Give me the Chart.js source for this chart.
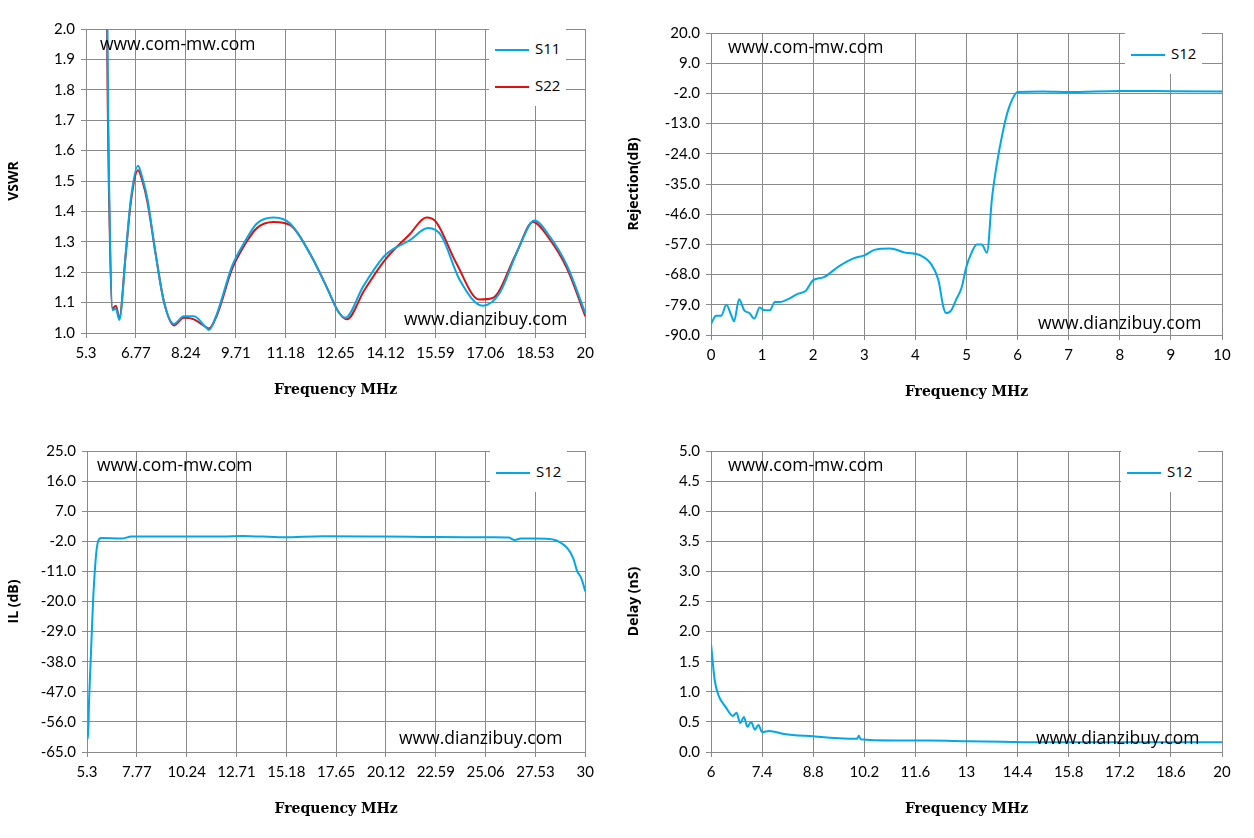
<!DOCTYPE html>
<html><head><meta charset="utf-8">
<script src="https://cdn.jsdelivr.net/npm/chart.js@4"></script>
<style>
body{margin:0;background:#fff;width:1254px;height:838px;position:relative;overflow:hidden;font-family:"Open Sans",sans-serif}
.box{position:absolute}
.wm{position:absolute;font-size:17.5px;color:#000;font-family:"Open Sans",sans-serif}
.leg{position:absolute;background:#fff;font-size:15px;font-family:"Open Sans",sans-serif;padding:2px 6px}
.leg div{height:37px;line-height:37px;white-space:nowrap}
.leg span{display:inline-block;width:34px;height:2px;vertical-align:middle;margin-right:6px}
</style></head><body>
<div class="box" style="left:0;top:14px;width:600px;height:389px"><canvas id="c1"></canvas></div>
<div class="box" style="left:620px;top:18px;width:634px;height:387px"><canvas id="c2"></canvas></div>
<div class="box" style="left:0;top:436px;width:600px;height:386px"><canvas id="c3"></canvas></div>
<div class="box" style="left:620px;top:436px;width:634px;height:386px"><canvas id="c4"></canvas></div>
<div class="wm" style="left:100px;top:31px">www.com-mw.com</div>
<div class="wm" style="left:404px;top:306px">www.dianzibuy.com</div>
<div class="wm" style="left:728px;top:34px">www.com-mw.com</div>
<div class="wm" style="left:1038px;top:310px">www.dianzibuy.com</div>
<div class="wm" style="left:97px;top:452px">www.com-mw.com</div>
<div class="wm" style="left:399px;top:725px">www.dianzibuy.com</div>
<div class="wm" style="left:728px;top:452px">www.com-mw.com</div>
<div class="wm" style="left:1036px;top:725px">www.dianzibuy.com</div>
<div class="leg" style="left:489px;top:28px"><div><span style="background:#00a8e8"></span>S11</div><div><span style="background:#e01010"></span>S22</div></div>
<div class="leg" style="left:1125px;top:33px"><div><span style="background:#00a8e8"></span>S12</div></div>
<div class="leg" style="left:490px;top:451px"><div><span style="background:#00a8e8"></span>S12</div></div>
<div class="leg" style="left:1121px;top:451px"><div><span style="background:#00a8e8"></span>S12</div></div>
<script>
const vswrX = ['5.3','6.77','8.24','9.71','11.18','12.65','14.12','15.59','17.06','18.53','20'];
const vswrY = [1.0,1.1,1.2,1.3,1.4,1.5,1.6,1.7,1.8,1.9,2.0];
const s11 = [[5.93,2.0],[5.95,1.75],[5.98,1.49],[6.08,1.075],[6.18,1.08],[6.28,1.043],[6.47,1.26],[6.62,1.44],[6.83,1.55],[6.96,1.51],[7.11,1.44],[7.35,1.26],[7.6,1.1],[7.89,1.03],[8.18,1.055],[8.48,1.055],[8.82,1.02],[8.92,1.01],[9.16,1.065],[9.6,1.22],[10.0,1.305],[10.33,1.36],[10.82,1.38],[11.31,1.36],[11.9,1.26],[12.39,1.15],[12.73,1.07],[12.93,1.05],[13.47,1.155],[14.1,1.255],[14.83,1.305],[15.37,1.345],[15.76,1.32],[16.3,1.175],[16.98,1.09],[17.47,1.13],[18.06,1.285],[18.5,1.37],[18.94,1.32],[19.47,1.22],[20,1.065]];
const s22 = [[5.92,2.0],[5.94,1.75],[5.97,1.5],[6.08,1.08],[6.18,1.09],[6.28,1.05],[6.47,1.26],[6.62,1.43],[6.83,1.535],[6.96,1.5],[7.11,1.43],[7.35,1.26],[7.6,1.1],[7.89,1.025],[8.18,1.05],[8.48,1.045],[8.82,1.02],[8.92,1.015],[9.16,1.06],[9.6,1.21],[10.0,1.295],[10.33,1.345],[10.82,1.365],[11.31,1.355],[11.9,1.26],[12.39,1.15],[12.73,1.07],[12.98,1.045],[13.49,1.14],[14.1,1.24],[14.83,1.325],[15.32,1.38],[15.61,1.365],[16.2,1.23],[16.88,1.11],[17.27,1.115],[17.96,1.26],[18.46,1.365],[18.94,1.31],[19.47,1.21],[20,1.055]];
const rejX = [0,1,2,3,4,5,6,7,8,9,10];
const rejY = [-90,-79,-68,-57,-46,-35,-24,-13,-2,9,20];
const rej = [[0,-86],[0.1,-83],[0.2,-83],[0.3,-79],[0.4,-83],[0.45,-85],[0.55,-77],[0.65,-81],[0.75,-82],[0.85,-84],[0.95,-80],[1.05,-81],[1.15,-81],[1.25,-78],[1.35,-78],[1.5,-77],[1.7,-75],[1.85,-74],[2.0,-70],[2.2,-69],[2.5,-65],[2.8,-62],[3.0,-61],[3.2,-59],[3.5,-58.5],[3.8,-60],[4.1,-61],[4.3,-64],[4.45,-70],[4.55,-80],[4.6,-82],[4.7,-81],[4.8,-77],[4.9,-73],[5.0,-65],[5.1,-60],[5.2,-57],[5.3,-57],[5.4,-60],[5.5,-40],[5.6,-27],[5.7,-17],[5.8,-9],[5.9,-4],[6.0,-1.5],[6.5,-1.3],[7,-1.5],[8,-1.1],[9,-1.2],[10,-1.3]];
const ilX = ['5.3','7.77','10.24','12.71','15.18','17.65','20.12','22.59','25.06','27.53','30'];
const ilY = [-65,-56,-47,-38,-29,-20,-11,-2,7,16,25];
const il = [[5.3,-58],[5.35,-61],[5.4,-50],[5.5,-35],[5.6,-20],[5.75,-6],[5.85,-2],[6.0,-1],[7,-1.2],[7.5,-0.6],[10,-0.6],[12,-0.6],[13,-0.4],[15,-0.8],[17,-0.5],[20,-0.6],[22,-0.7],[24,-0.8],[25.5,-0.8],[26.2,-0.9],[26.5,-1.6],[26.8,-1.2],[27.5,-1.2],[28.2,-1.3],[28.5,-1.6],[28.8,-2.5],[29.1,-4],[29.4,-7],[29.6,-11],[29.8,-13],[30,-17]];
const dlX = ['6','7.4','8.8','10.2','11.6','13','14.4','15.8','17.2','18.6','20'];
const dlY = [0,0.5,1,1.5,2,2.5,3,3.5,4,4.5,5];
const dl = [[6,1.8],[6.1,1.2],[6.2,0.95],[6.4,0.75],[6.6,0.6],[6.7,0.65],[6.8,0.48],[6.9,0.58],[7.0,0.42],[7.1,0.5],[7.2,0.37],[7.3,0.45],[7.4,0.33],[7.6,0.35],[8,0.3],[8.8,0.26],[9.5,0.23],[10,0.22],[10.05,0.27],[10.1,0.21],[11,0.19],[12,0.19],[13,0.18],[14,0.17],[15,0.16],[17,0.16],[20,0.16]];

const pts = a => a.map(p => ({x: p[0], y: p[1]}));
const tickFont = {family: 'Lato, sans-serif', size: 15};

function makeChart(id, xt, yt, sets, ytitle, yw, padR) {
  const xs = xt.map(Number);
  new Chart(document.getElementById(id), {
    type: 'line',
    data: {datasets: sets.map(s => ({data: pts(s[0]), borderColor: s[1], borderWidth: 2, pointRadius: 0, cubicInterpolationMode: 'monotone'}))},
    options: {
      animation: false, responsive: true, maintainAspectRatio: false,
      layout: {padding: {top: 8, right: padR, left: 6, bottom: 0}},
      plugins: {legend: {display: false}, tooltip: {enabled: false}},
      scales: {
        x: {type: 'linear', min: xs[0], max: xs[xs.length - 1],
          afterBuildTicks: ax => { ax.ticks = xs.map(v => ({value: v})); },
          afterFit: ax => { ax.height = 70; },
          ticks: {callback: (v, i) => xt[i], color: '#000', font: tickFont, maxRotation: 0, autoSkip: false, padding: 6},
          grid: {color: '#8a8a8a', tickLength: 5}, border: {color: '#8a8a8a'},
          title: {display: true, text: 'Frequency MHz', color: '#000', padding: {top: 4, bottom: 4}, font: {family: '"DejaVu Serif", serif', size: 14, weight: 'bold'}}},
        y: {min: yt[0], max: yt[yt.length - 1],
          afterBuildTicks: ax => { ax.ticks = yt.map(v => ({value: v})); },
          afterFit: ax => { ax.width = yw - 6; },
          ticks: {callback: v => v.toFixed(1), color: '#000', font: tickFont, autoSkip: false, padding: 6},
          grid: {color: '#8a8a8a', tickLength: 5}, border: {color: '#8a8a8a'},
          title: {display: true, text: ytitle, color: '#000', padding: {top: 0, bottom: 0}, font: {family: '"Open Sans", sans-serif', size: 14, weight: 'bold'}}}
      }
    }
  });
}
makeChart('c1', vswrX, vswrY, [[s11, '#00a8e8'], [s22, '#e01010']], 'VSWR', 86, 13);
makeChart('c2', rejX.map(String), rejY, [[rej, '#00a8e8']], 'Rejection(dB)', 91, 32);
makeChart('c3', ilX, ilY, [[il, '#00a8e8']], 'IL (dB)', 87, 12);
makeChart('c4', dlX, dlY, [[dl, '#00a8e8']], 'Delay (nS)', 91, 32);
</script></body></html>
